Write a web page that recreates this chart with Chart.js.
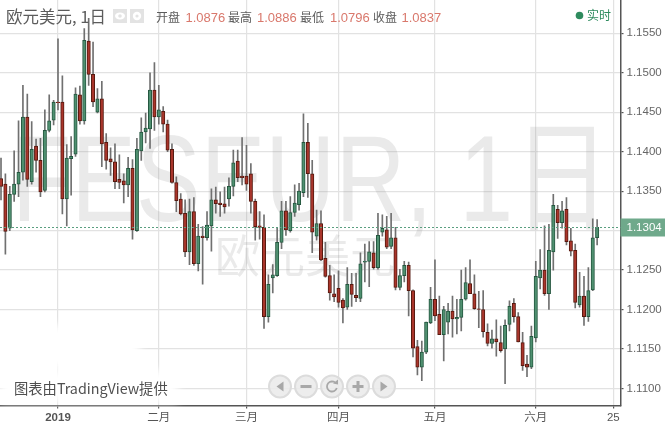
<!DOCTYPE html>
<html><head><meta charset="utf-8">
<style>html,body{margin:0;padding:0;background:#fff}canvas{display:block}</style>
<script src="https://cdn.jsdelivr.net/npm/chart.js@4/dist/chart.umd.js"></script>
</head><body><canvas id="c" width="665" height="425"></canvas>
<script>
const opens=[1.1366,1.1359,1.1303,1.1346,1.1359,1.1374,1.1444,1.1362,1.1407,1.1389,
1.1351,1.1427,1.1440,1.1463,1.1463,1.1340,1.1391,1.1397,1.1472,1.1439,
1.1540,1.1498,1.1450,1.1467,1.1412,1.1391,1.1387,1.1365,1.1363,1.1358,
1.1379,1.1300,1.1401,1.1425,1.1429,1.1478,1.1444,1.1451,1.1435,1.1403,
1.1361,1.1340,1.1322,1.1273,1.1324,1.1258,1.1293,1.1291,1.1306,1.1339,
1.1335,1.1334,1.1340,1.1356,1.1388,1.1369,1.1369,1.1372,1.1337,1.1306,
1.1304,1.1191,1.1240,1.1243,1.1285,1.1325,1.1300,1.1323,1.1333,1.1348,
1.1412,1.1372,1.1293,1.1309,1.1265,1.1243,1.1220,1.1227,1.1212,1.1203,
1.1232,1.1218,1.1214,1.1260,1.1261,1.1272,1.1253,1.1298,1.1301,1.1280,
1.1291,1.1228,1.1243,1.1256,1.1224,1.1153,1.1127,1.1146,1.1183,1.1213,
1.1194,1.1168,1.1184,1.1198,1.1188,1.1190,1.1213,1.1233,1.1220,1.1201,
1.1200,1.1171,1.1157,1.1163,1.1158,1.1150,1.1181,1.1208,1.1191,1.1158,
1.1131,1.1127,1.1164,1.1240,1.1250,1.1220,1.1273,1.1327,1.1310,1.1327,
1.1287,1.1275,1.1206,1.1217,1.1191,1.1225,1.1291];
const highs=[1.1392,1.1372,1.1356,1.1401,1.1439,1.1484,1.1473,1.1438,1.1416,1.1417,
1.1453,1.1472,1.1465,1.1543,1.1496,1.1409,1.1419,1.1481,1.1483,1.1556,
1.1569,1.1539,1.1480,1.1489,1.1423,1.1405,1.1410,1.1396,1.1372,1.1393,
1.1390,1.1417,1.1443,1.1449,1.1500,1.1513,1.1484,1.1457,1.1440,1.1410,
1.1368,1.1347,1.1339,1.1340,1.1342,1.1308,1.1305,1.1324,1.1353,1.1355,
1.1349,1.1355,1.1367,1.1402,1.1402,1.1418,1.1408,1.1385,1.1340,1.1324,
1.1320,1.1244,1.1257,1.1304,1.1337,1.1337,1.1343,1.1358,1.1360,1.1448,
1.1436,1.1389,1.1326,1.1325,1.1285,1.1256,1.1244,1.1249,1.1214,1.1253,
1.1246,1.1246,1.1272,1.1283,1.1286,1.1286,1.1322,1.1320,1.1318,1.1322,
1.1304,1.1251,1.1261,1.1260,1.1225,1.1161,1.1160,1.1184,1.1228,1.1263,
1.1217,1.1204,1.1208,1.1217,1.1213,1.1250,1.1253,1.1263,1.1244,1.1223,
1.1224,1.1182,1.1174,1.1187,1.1179,1.1187,1.1211,1.1214,1.1196,1.1171,
1.1142,1.1179,1.1261,1.1276,1.1306,1.1308,1.1346,1.1332,1.1337,1.1342,
1.1303,1.1283,1.1247,1.1242,1.1253,1.1315,1.1314];
const lows=[1.1339,1.1270,1.1300,1.1337,1.1343,1.1364,1.1356,1.1359,1.1374,1.1343,
1.1349,1.1425,1.1434,1.1453,1.1321,1.1306,1.1345,1.1394,1.1435,1.1435,
1.1484,1.1457,1.1449,1.1381,1.1378,1.1370,1.1353,1.1353,1.1335,1.1343,
1.1289,1.1299,1.1389,1.1411,1.1404,1.1427,1.1435,1.1425,1.1400,1.1360,
1.1324,1.1320,1.1267,1.1257,1.1256,1.1249,1.1232,1.1288,1.1274,1.1322,
1.1318,1.1322,1.1331,1.1344,1.1362,1.1358,1.1351,1.1322,1.1288,1.1289,
1.1176,1.1184,1.1221,1.1242,1.1277,1.1294,1.1298,1.1318,1.1326,1.1343,
1.1342,1.1272,1.1288,1.1262,1.1241,1.1212,1.1210,1.1203,1.1183,1.1200,
1.1204,1.1210,1.1210,1.1235,1.1229,1.1251,1.1251,1.1293,1.1277,1.1277,
1.1225,1.1225,1.1235,1.1192,1.1140,1.1117,1.1110,1.1144,1.1182,1.1186,
1.1168,1.1135,1.1169,1.1165,1.1169,1.1173,1.1212,1.1220,1.1200,1.1177,
1.1165,1.1154,1.1151,1.1141,1.1146,1.1106,1.1173,1.1184,1.1159,1.1123,
1.1115,1.1125,1.1159,1.1226,1.1218,1.1200,1.1250,1.1290,1.1303,1.1282,
1.1268,1.1202,1.1203,1.1180,1.1185,1.1224,1.1282];
const closes=[1.1356,1.1299,1.1346,1.1359,1.1374,1.1444,1.1365,1.1403,1.1389,1.1349,
1.1427,1.1439,1.1463,1.1462,1.1340,1.1392,1.1394,1.1473,1.1439,1.1541,
1.1498,1.1463,1.1467,1.1410,1.1389,1.1387,1.1362,1.1361,1.1358,1.1379,
1.1301,1.1403,1.1425,1.1430,1.1478,1.1444,1.1453,1.1435,1.1402,1.1361,
1.1338,1.1321,1.1273,1.1324,1.1258,1.1293,1.1291,1.1307,1.1339,1.1334,
1.1333,1.1330,1.1356,1.1386,1.1367,1.1367,1.1359,1.1337,1.1305,1.1304,
1.1191,1.1232,1.1244,1.1285,1.1325,1.1301,1.1323,1.1335,1.1350,1.1412,
1.1372,1.1298,1.1309,1.1263,1.1242,1.1221,1.1216,1.1209,1.1202,1.1232,
1.1219,1.1215,1.1258,1.1261,1.1273,1.1253,1.1294,1.1303,1.1279,1.1291,
1.1228,1.1243,1.1256,1.1224,1.1151,1.1127,1.1146,1.1184,1.1213,1.1192,
1.1168,1.1200,1.1198,1.1188,1.1190,1.1213,1.1234,1.1220,1.1201,1.1200,
1.1172,1.1157,1.1163,1.1159,1.1148,1.1180,1.1204,1.1191,1.1159,1.1129,
1.1127,1.1166,1.1242,1.1250,1.1220,1.1275,1.1332,1.1310,1.1325,1.1286,
1.1274,1.1209,1.1217,1.1191,1.1224,1.1291,1.1304];
const days=opens.map((_,i)=>i+1);
const yTicks=[1.11,1.115,1.12,1.125,1.13,1.135,1.14,1.145,1.15,1.155];
const xTickDays=[14,37,57,78,100,123,140.7];
const xTickLabels=['2019','二月','三月','四月','五月','六月','25'];
const lastPrice=1.1304;
const titleText='欧元美元, 1日';
const ohlcLabels=['开盘','最高','最低','收盘'];
const ohlcValues=['1.0876','1.0886','1.0796','1.0837'];
const watermark='FESEUR, 1日';
const watermark2='欧元美元';
const liveLabel='实时';
const creditText='图表由TradingView提供';

const FONT='"Liberation Sans","Noto Sans CJK SC",sans-serif';
const UP='#4f9070',UPB='#24563f',DN='#a9352b',DNB='#55190f',WICK='#707070';

const backdrop={id:'backdrop',beforeDraw(ch){
  const c=ch.ctx;c.save();
  c.fillStyle='#fff';c.fillRect(0,0,665,425);
  c.restore();
},beforeDatasetsDraw(ch){
  const c=ch.ctx;c.save();
  c.filter='blur(5px)';c.fillStyle='#fff';
  c.fillRect(-10,325,150,44);c.fillRect(0,370,178,32);
  c.filter='none';
  c.fillStyle='rgba(150,150,150,0.2)';c.textBaseline='alphabetic';c.textAlign='left';
  c.font='100px '+FONT;
  c.save();c.translate(12,221);c.scale(0.97,1.22);c.fillText(watermark,0,0);c.restore();
  c.font='45px "Noto Sans CJK SC"';
  c.fillText(watermark2,215,273);
  c.restore();
}};
const overlay={id:'overlay',afterDatasetsDraw(ch){
  const c=ch.ctx,ya=ch.scales.y,a=ch.chartArea;c.save();
  const py=Math.round(ya.getPixelForValue(lastPrice))+0.5;
  c.strokeStyle='#5a9f80';c.lineWidth=1;c.setLineDash([2,2]);
  c.beginPath();c.moveTo(0,py);c.lineTo(a.right,py);c.stroke();c.setLineDash([]);
  c.fillStyle='#6fa98b';c.fillRect(a.right,py-9,45,18);
  c.fillStyle='#fff';c.font='11.5px '+FONT;c.textBaseline='middle';c.textAlign='left';
  c.fillText(String(lastPrice.toFixed(4)),a.right+6,py+0.5);
  c.textBaseline='alphabetic';
  c.fillStyle='#5c5c5c';c.font='16.5px "Noto Sans CJK SC"';c.fillText(titleText,6,23);
  c.fillStyle='#e3e3e3';c.fillRect(113,9,14,14);c.fillRect(130,9,14,14);
  c.fillStyle='#fff';c.beginPath();c.ellipse(120,16,5,3.4,0,0,7);c.fill();
  c.beginPath();c.arc(137,16,4.2,0,7);c.fill();
  c.fillStyle='#e3e3e3';c.beginPath();c.arc(120,16,1.8,0,7);c.arc(137,16,1.6,0,7);c.fill();
  const lx=[156,228,300,373],vx=[185.5,257,330,401.5];
  ohlcLabels.forEach((t,i)=>{
    c.fillStyle='#5c5c5c';c.font='12px "Noto Sans CJK SC"';c.fillText(t,lx[i],22);
    c.fillStyle='#d9786c';c.font='13px '+FONT;c.fillText(ohlcValues[i],vx[i],22);
  });
  c.fillStyle='#2e8b5e';c.beginPath();c.arc(579.5,15.5,3.8,0,7);c.fill();
  c.font='12px "Noto Sans CJK SC"';c.fillText(liveLabel,587,20);
  c.fillStyle='#4f4f4f';c.font='14.3px "Noto Sans CJK SC"';c.fillText(creditText,14,394);
  [280,306,332,358,384].forEach((x,i)=>{
    c.fillStyle='rgba(235,235,235,0.9)';c.strokeStyle='#dcdcdc';c.lineWidth=2;
    c.beginPath();c.arc(x,386.5,11,0,7);c.fill();c.stroke();
    c.fillStyle='#a8a8a8';c.strokeStyle='#a8a8a8';
    const y=386.5;
    if(i===0){c.beginPath();c.moveTo(x+3.5,y-5);c.lineTo(x+3.5,y+5);c.lineTo(x-3.5,y);c.fill();}
    if(i===4){c.beginPath();c.moveTo(x-3.5,y-5);c.lineTo(x-3.5,y+5);c.lineTo(x+3.5,y);c.fill();}
    if(i===1||i===3){c.fillRect(x-5.5,y-1.5,11,3);}
    if(i===3){c.fillRect(x-1.5,y-5.5,3,11);}
    if(i===2){c.lineWidth=1.8;c.beginPath();c.arc(x,y,5,0.3,5.4);c.stroke();
      c.beginPath();c.moveTo(x+6,y-7);c.lineTo(x+6,y-2);c.lineTo(x+1,y-3);c.fill();}
  });
  c.restore();
}};

new Chart(document.getElementById('c'),{
  type:'bar',
  data:{datasets:[
    {label:'body',order:1,grouped:false,barThickness:3.4,borderWidth:1,borderSkipped:false,
     data:days.map((d,i)=>({x:d,y:[opens[i],closes[i]]})),
     backgroundColor:days.map((d,i)=>closes[i]>=opens[i]?UP:DN),
     borderColor:days.map((d,i)=>closes[i]>=opens[i]?UPB:DNB)},
    {label:'wick',order:2,grouped:false,barThickness:1,borderWidth:0,
     data:days.map((d,i)=>({x:d,y:[lows[i],highs[i]]})),
     backgroundColor:WICK}
  ]},
  plugins:[backdrop,overlay],
  options:{
    responsive:false,animation:false,
    layout:{padding:0},
    plugins:{legend:{display:false},tooltip:{enabled:false},title:{display:false}},
    scales:{
      x:{type:'linear',min:0.77,max:142.33,offset:false,
        afterBuildTicks(s){s.ticks=xTickDays.map(v=>({value:v}));},
        afterFit(s){s.height=19.5;s.paddingLeft=0;s.paddingRight=0;},
        border:{color:'#555',width:1.5},
        grid:{color:'#e2e2e2',lineWidth:1.2,tickColor:'#555',tickLength:3,drawOnChartArea:true,offset:false},
        ticks:{autoSkip:false,maxRotation:0,minRotation:0,padding:2,color:'#555',
          font:c=>({family:FONT,size:11.5,weight:c.tick&&c.tick.value===14?'bold':'normal'}),
          callback:v=>{const i=xTickDays.indexOf(v);return i<0?'':xTickLabels[i];}}
      },
      y:{position:'right',min:1.10784,max:1.15922,
        afterBuildTicks(s){s.ticks=yTicks.map(v=>({value:v}));},
        afterFit(s){s.width=44.5;s.paddingTop=0;s.paddingBottom=0;},
        border:{color:'#555',width:1.5},
        grid:{color:'#e2e2e2',lineWidth:1.2,tickColor:'#555',tickLength:3},
        ticks:{padding:3,color:'#666',font:{family:FONT,size:11.5},callback:v=>v.toFixed(4)}
      }
    }
  }
});
</script></body></html>
